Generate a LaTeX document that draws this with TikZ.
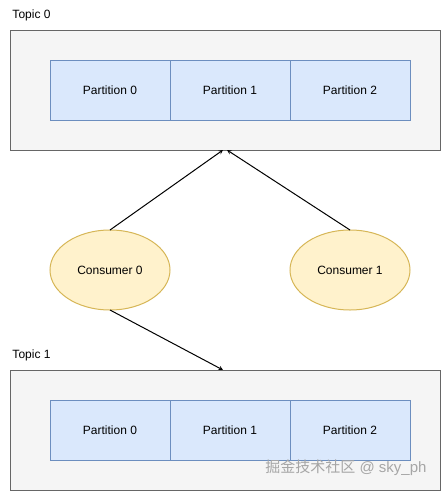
\documentclass[tikz,border=0pt]{standalone}
\usepackage{fontspec}
\setmainfont{Liberation Sans}
\newfontfamily\cjk{Noto Sans CJK SC}
\usepackage{xcolor}
\usetikzlibrary{positioning,shapes.geometric}
\definecolor{topicfill}{HTML}{F5F5F5}
\definecolor{topicline}{HTML}{666666}
\definecolor{partfill}{HTML}{DAE8FC}
\definecolor{partline}{HTML}{6C8EBF}
\definecolor{consfill}{HTML}{FFF2CC}
\definecolor{consline}{HTML}{D6B656}

\begin{document}
\begin{tikzpicture}[x=1pt, y=-1pt, line width=1pt,
    font=\fontsize{12pt}{14pt}\selectfont,
    topicbox/.style={draw=topicline, fill=topicfill, minimum width=430pt, minimum height=120pt, inner sep=0pt, outer sep=0pt},
    partbox/.style={draw=partline, fill=partfill, minimum width=120pt, minimum height=60pt, inner sep=0pt, outer sep=0pt},
    consumer/.style={ellipse, draw=consline, fill=consfill, minimum width=120pt, minimum height=80pt, inner sep=0pt, outer sep=0pt},
    topiclabel/.style={anchor=west, inner sep=0pt}]
    \useasboundingbox (0,0) rectangle (441,491);
    % topics
    \node[topicbox] (t0) at (225,90) {};
    \node[topiclabel] (t0lab) at (12,15) {Topic 0};
    \node[topicbox] (t1) at (225,430) {};
    \node[topiclabel] (t1lab) at (12,355) {Topic 1};
    % partitions
    \foreach \i in {0,1,2} {
      \node[partbox] (p0\i) at (110+120*\i,90) {Partition \i};
      \node[partbox] (p1\i) at (110+120*\i,430) {Partition \i};
    }
    % consumers
    \node[consumer] (c0) at (110,270) {Consumer 0};
    \node[consumer] (c1) at (350,270) {Consumer 1};
    \coordinate (in0) at (223,150);
    \coordinate (in1) at (227,150);
    \coordinate (in2) at (223,370);
    \path[-stealth]
      (c0.north) edge (in0)
      (c1.north) edge (in1)
      (c0.south) edge (in2)
      ;
    \node[anchor=east, inner sep=0pt, text=gray!70, font=\fontsize{15pt}{17pt}\selectfont] (wm) at (427,468) {{\cjk 掘金技术社区} @ sky\_ph};
  \end{tikzpicture}
\end{document}
